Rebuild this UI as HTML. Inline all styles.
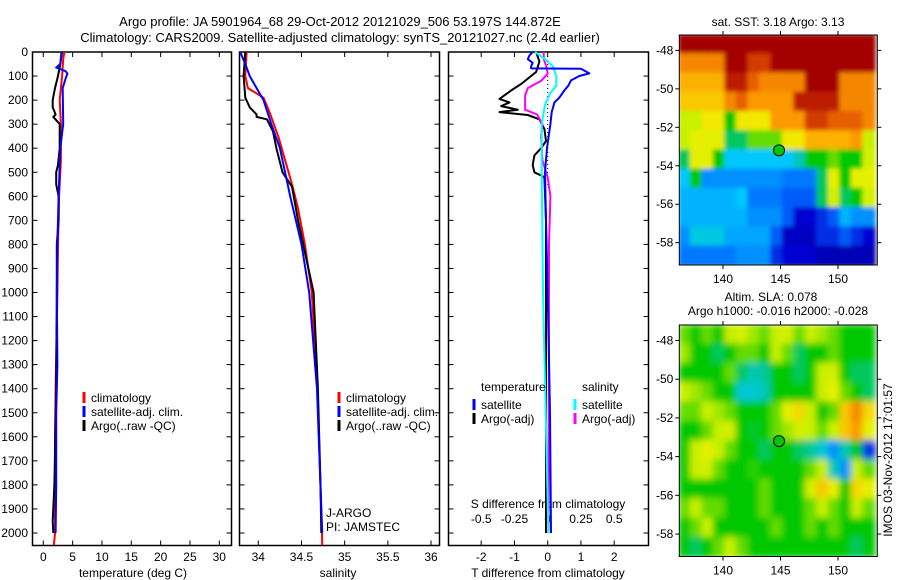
<!DOCTYPE html>
<html><head><meta charset="utf-8">
<style>
html,body{margin:0;padding:0;background:#fff;}
svg{display:block;font-family:"Liberation Sans",sans-serif;font-size:12px;}
</style></head>
<body>
<svg id="fig" width="900" height="580" viewBox="0 0 900 580" xmlns="http://www.w3.org/2000/svg">
<text x="340" y="26" text-anchor="middle" font-size="13">Argo profile: JA 5901964_68 29-Oct-2012 20121029_506 53.197S 144.872E</text>
<text x="340" y="42" text-anchor="middle" font-size="13">Climatology: CARS2009. Satellite-adjusted climatology: synTS_20121027.nc (2.4d earlier)</text>
<g id="layer"></g>
</svg>
<script>
// ---------- data ----------
const tempDepth = [0,30,100,200,300,450,600,800,1000,1400,1600,2000,2050];
const tempClim  = [3.6,3.4,3.2,2.8,3.0,3.0,2.7,2.5,2.4,2.1,2.0,2.0,1.8];
const tempSatDepth = [0,50,65,80,90,110,150,300,400,600,800,1000,1300,1500,1800,2000];
const tempSat = [3.1,2.9,2.2,3.8,4.1,3.8,3.3,3.4,2.9,2.6,2.4,2.3,2.4,2.2,2.2,2.1];
const tempArgoDepth = [0,50,100,150,200,230,260,270,300,400,470,500,550,600,700,800,1000,1400,1800,1950,2000];
const tempArgo = [3.2,2.9,2.5,2.0,1.6,1.6,2.1,1.7,2.8,2.8,2.5,2.2,2.2,2.6,2.6,2.3,2.3,2.2,1.9,1.6,1.7];

const salClimDepth = [0,100,150,190,250,350,450,550,650,800,1000,1400,2000,2050];
const salClim = [33.865,33.85,33.88,34.06,34.13,34.23,34.31,34.39,34.46,34.54,34.62,34.684,34.738,34.74];
const salSatDepth = [0,50,100,150,200,300,400,500,600,800,1000,1400,2000];
const salSat = [33.79,33.85,33.9,33.98,34.06,34.15,34.25,34.31,34.37,34.5,34.59,34.68,34.74];
const salArgoDepth = [0,100,190,230,260,270,280,330,400,500,560,700,900,1000,1400,1800,2000];
const salArgo = [33.85,33.83,33.85,33.9,33.98,33.98,34.1,34.17,34.21,34.28,34.39,34.46,34.58,34.64,34.69,34.72,34.73];

const dTSatDepth = [0,15,30,45,60,68,70,89,100,118,140,160,190,210,250,300,400,500,700,1000,1500,2000];
const dTSat = [-0.45,-0.55,-0.6,-0.45,-0.5,-0.5,1.0,1.25,0.95,0.7,0.62,0.5,0.35,0.2,0.12,0.08,-0.02,-0.08,-0.05,0.0,0.07,0.1];
const dTArgoDepth = [0,40,83,133,160,195,210,225,240,250,262,280,320,370,400,430,470,500,520,700,1000,1500,2000];
const dTArgo = [-0.35,-0.25,-0.35,-0.8,-1.1,-1.45,-1.15,-1.4,-0.9,-1.45,-0.6,-0.25,-0.1,-0.05,-0.2,-0.4,-0.45,-0.4,-0.1,-0.05,-0.05,-0.05,-0.05];
const dSSatDepth = [0,30,60,100,140,170,220,300,500,1000,1500,2000];
const dSSat = [-0.095,-0.02,0.04,0.065,0.065,0.02,-0.02,-0.045,-0.045,-0.035,-0.015,0.005];
const dSArgoDepth = [0,30,60,90,120,150,180,210,240,260,300,350,450,520,600,800,1200,2000];
const dSArgo = [-0.03,-0.03,-0.01,0.0,-0.05,-0.15,-0.17,-0.17,-0.17,-0.08,-0.04,-0.05,-0.04,0.0,0.02,0.01,0.01,0.005];

const depthTicks = [0,100,200,300,400,500,600,700,800,900,1000,1100,1200,1300,1400,1500,1600,1700,1800,1900,2000];
const tempTicks = [0,5,10,15,20,25,30];
const salTicks = [34,34.5,35,35.5,36];
const salTickLabels = ["34","34.5","35","35.5","36"];
const dTTicks = [-2,-1,0,1,2];
const dSTicks = [-0.5,-0.25,0,0.25,0.5];
const dSTickLabels = ["-0.5","-0.25","0","0.25","0.5"];

const mapLons = [136.7,137.7,138.7,139.7,140.7,141.7,142.7,143.7,144.7,145.7,146.7,147.7,148.7,149.7,150.7,151.7,152.7];
const mapLats = [-47.7,-48.7,-49.7,-50.7,-51.7,-52.7,-53.7,-54.7,-55.7,-56.7,-57.7,-58.7];
const lonTicks = [140,145,150];
const latTicks = [-48,-50,-52,-54,-56,-58];
const sstGrid = [
[1,1,1,1,1,1,1,1,1,1,1,1,1,1,1,1,1],
[0.8,0.8,0.8,0.8,1,1,0.9,0.9,1,1,1,1,1,1,1,1,1],
[0.75,0.75,0.75,0.75,0.95,0.95,0.85,0.8,0.8,0.8,0.8,1,1,1,0.8,0.8,0.8],
[0.72,0.72,0.72,0.72,0.8,0.85,0.78,0.78,0.78,0.78,0.95,0.95,0.95,0.95,0.8,0.8,0.8],
[0.6,0.6,0.68,0.68,0.5,0.68,0.68,0.68,0.78,0.78,0.78,0.9,0.9,0.85,0.85,0.85,0.8],
[0.6,0.65,0.65,0.65,0.45,0.45,0.55,0.55,0.55,0.68,0.68,0.75,0.75,0.75,0.75,0.78,0.6],
[0.45,0.65,0.65,0.5,0.35,0.35,0.35,0.35,0.35,0.35,0.4,0.5,0.5,0.55,0.5,0.5,0.62],
[0.35,0.5,0.3,0.3,0.3,0.3,0.3,0.3,0.3,0.28,0.28,0.28,0.45,0.65,0.5,0.65,0.65],
[0.33,0.33,0.33,0.33,0.33,0.35,0.28,0.28,0.28,0.25,0.25,0.25,0.45,0.62,0.45,0.5,0.62],
[0.33,0.33,0.33,0.33,0.33,0.33,0.3,0.3,0.3,0.25,0.15,0.15,0.2,0.25,0.33,0.3,0.3],
[0.3,0.37,0.37,0.37,0.32,0.32,0.32,0.32,0.25,0.12,0.12,0.12,0.2,0.2,0.25,0.2,0.15],
[0.28,0.28,0.28,0.28,0.28,0.3,0.3,0.3,0.2,0.15,0.15,0.15,0.1,0.1,0.1,0.1,0.1]
];
const slaGrid = [
[0.55,0.5,0.55,0.5,0.6,0.62,0.58,0.55,0.6,0.62,0.55,0.6,0.58,0.55,0.5,0.5,0.5],
[0.58,0.5,0.5,0.45,0.5,0.55,0.55,0.5,0.6,0.55,0.45,0.5,0.5,0.55,0.5,0.5,0.5],
[0.5,0.5,0.5,0.5,0.55,0.45,0.4,0.42,0.5,0.5,0.45,0.5,0.6,0.62,0.5,0.45,0.45],
[0.6,0.58,0.55,0.5,0.5,0.38,0.38,0.4,0.5,0.5,0.5,0.5,0.6,0.66,0.55,0.5,0.45],
[0.55,0.55,0.6,0.58,0.55,0.5,0.5,0.5,0.55,0.65,0.7,0.6,0.5,0.55,0.72,0.8,0.7],
[0.5,0.5,0.55,0.6,0.62,0.5,0.48,0.5,0.55,0.58,0.62,0.6,0.55,0.6,0.72,0.78,0.65],
[0.5,0.6,0.65,0.6,0.55,0.5,0.5,0.45,0.5,0.5,0.45,0.42,0.38,0.3,0.4,0.5,0.2],
[0.5,0.6,0.62,0.55,0.5,0.5,0.52,0.5,0.5,0.5,0.5,0.55,0.6,0.4,0.3,0.6,0.55],
[0.5,0.5,0.5,0.5,0.5,0.5,0.5,0.55,0.5,0.5,0.5,0.62,0.72,0.65,0.5,0.7,0.65],
[0.55,0.6,0.55,0.55,0.5,0.5,0.5,0.55,0.5,0.5,0.5,0.55,0.6,0.55,0.5,0.6,0.55],
[0.5,0.55,0.6,0.5,0.5,0.5,0.5,0.5,0.55,0.5,0.5,0.55,0.5,0.55,0.5,0.5,0.5],
[0.5,0.45,0.5,0.55,0.6,0.55,0.5,0.5,0.5,0.5,0.5,0.5,0.5,0.5,0.5,0.45,0.5]
];
const argoLon = 144.872, argoLat = -53.197;

// ---------- drawing ----------
const NS = "http://www.w3.org/2000/svg";
const layer = document.getElementById('layer');
function mk(tag, attrs, parent){ const e=document.createElementNS(NS,tag); for(const k in attrs) e.setAttribute(k,attrs[k]); (parent||layer).appendChild(e); return e; }
function txt(x,y,s,anchor,parent){ const t=mk('text',{x:x,y:y,'text-anchor':anchor||'middle'},parent); t.textContent=s; return t; }

const Y0=52, YS=0.2405;
const yD = d => Y0 + d*YS;
const PB = 545.5;

function panel(x0,x1,name){
  const g=mk('g',{});
  
  
  const r=mk('rect',{x:x0,y:Y0,width:x1-x0,height:PB-Y0,fill:'none',stroke:'#000','stroke-width':1.5},g);
  
  
  depthTicks.forEach(d=>{
    mk('line',{x1:x0,x2:x0+5,y1:yD(d),y2:yD(d),stroke:'#000'},g);
    mk('line',{x1:x1,x2:x1-5,y1:yD(d),y2:yD(d),stroke:'#000'},g);
  });
  return g;
}
function profile(g,xf,depths,vals,color,name){
  const pts=depths.map((d,i)=>xf(vals[i]).toFixed(1)+','+yD(d).toFixed(1)).join(' ');
  const p=mk('polyline',{points:pts,fill:'none',stroke:color,'stroke-width':2,'stroke-linejoin':'round'},g);
  
  
}
function xticks(g,x0,x1,xf,ticks,labels,ly){
  ticks.forEach((t,i)=>{
    const x=xf(t);
    mk('line',{x1:x,x2:x,y1:PB,y2:PB-5,stroke:'#000'},g);
    mk('line',{x1:x,x2:x,y1:Y0,y2:Y0+5,stroke:'#000'},g);
    const lt=txt(x,ly,labels[i],'middle',g);
    
    
  });
}
function legend(g,bx,y,items){
  items.forEach((it,i)=>{
    mk('rect',{x:bx-1.5,y:y+i*14-6,width:3,height:11,fill:it[1]},g);
    const t=txt(bx+7,y+i*14+4,it[0],'start',g);
    
    
  });
}

// Panel 1: temperature
const xT = v => 43.3 + v*5.867;
const g1=panel(32.5,231.5,'temperature-panel');
depthTicks.forEach(d=>{
  const t=txt(28,yD(d)+4,String(d),'end',g1);
  
  
});
xticks(g1,32,231,xT,tempTicks,tempTicks.map(String),561);
const xl1=txt(133,577,'temperature (deg C)','middle',g1);


profile(g1,xT,tempDepth,tempClim,'#ff0000','temp-climatology-line');
profile(g1,xT,tempArgoDepth,tempArgo,'#000000','temp-argo-line');
profile(g1,xT,tempSatDepth,tempSat,'#0000ff','temp-satellite-line');
legend(g1,84,398,[['climatology','#ff0000'],['satellite-adj. clim.','#0000ff'],['Argo(..raw -QC)','#000000']]);

// Panel 2: salinity
const xS = v => 258.3 + (v-34)*86.35;
const g2=panel(239.5,439.5,'salinity-panel');
xticks(g2,239,439,xS,salTicks,salTickLabels,561);
const xl2=txt(338,577,'salinity','middle',g2);


profile(g2,xS,salClimDepth,salClim,'#ff0000','sal-climatology-line');
profile(g2,xS,salArgoDepth,salArgo,'#000000','sal-argo-line');
profile(g2,xS,salSatDepth,salSat,'#0000ff','sal-satellite-line');
legend(g2,339,398,[['climatology','#ff0000'],['satellite-adj. clim.','#0000ff'],['Argo(..raw -QC)','#000000']]);
const ja=txt(326,517,'J-ARGO','start',g2);


const pi=txt(326,531,'PI: JAMSTEC','start',g2);



// Panel 3: differences
const xDT = v => 547.7 + v*33.25;
const xDS = v => 547.7 + v*133;
const g3=panel(448.5,648.5,'difference-panel');
xticks(g3,448,648,xDT,dTTicks,dTTicks.map(String),561);
dSTicks.forEach((t,i)=>{
  const l=txt(xDS(t),523,dSTickLabels[i],'middle',g3);
  
  
});
const sdl=txt(548,508,'S difference from climatology','middle',g3);


const tdl=txt(548,577,'T difference from climatology','middle',g3);


mk('line',{x1:xDT(0),x2:xDT(0),y1:Y0,y2:yD(560),stroke:'#000','stroke-dasharray':'1,3'},g3);
profile(g3,xDT,dTArgoDepth,dTArgo,'#000000','t-diff-argo-line');
profile(g3,xDS,dSArgoDepth,dSArgo,'#ff00ff','s-diff-argo-line');
profile(g3,xDS,dSSatDepth,dSSat,'#00ffff','s-diff-satellite-line');
profile(g3,xDT,dTSatDepth,dTSat,'#0000ff','t-diff-satellite-line');
const tl=txt(481,391,'temperature','start',g3);


const sl=txt(582,391,'salinity','start',g3);


legend(g3,474,405,[['satellite','#0000ff'],['Argo(-adj)','#000000']]);
legend(g3,575,405,[['satellite','#00ffff'],['Argo(-adj)','#ff00ff']]);

// Maps
const cmapStops=[[0,[0,0,128]],[0.15,[0,0,210]],[0.27,[0,110,255]],[0.35,[0,200,255]],[0.42,[0,200,150]],[0.5,[0,200,0]],[0.6,[200,240,0]],[0.67,[240,240,0]],[0.77,[255,160,0]],[0.88,[220,70,0]],[1,[165,0,0]]];
function cmap(v){
  for(let i=1;i<cmapStops.length;i++){
    if(v<=cmapStops[i][0]){
      const a=cmapStops[i-1],b=cmapStops[i],f=(v-a[0])/(b[0]-a[0]);
      return 'rgb('+a[1].map((c,k)=>Math.round(c+(b[1][k]-c)*f)).join(',')+')';
    }
  }
  return 'rgb(165,0,0)';
}
const MX0=679.3, MX1=877.3;
const xLon = l => MX0 + (l-136.2)*11.5;
function map(top,bottom,grid,name,blur){
  const g=mk('g',{});
  
  
  const latS=(bottom-top)/11.96;
  const yLat = la => top + (-47.2-la)*latS;
  const clipId=name+'-clip';
  const cp=mk('clipPath',{id:clipId},g);
  mk('rect',{x:MX0,y:top,width:MX1-MX0,height:bottom-top},cp);
  const cg=mk('g',{'clip-path':'url(#'+clipId+')'},g);
  const inner=mk('g',blur?{filter:'url(#'+name+'-blur)'}:{},cg);
  if(blur){ const f=mk('filter',{id:name+'-blur',x:'-5%',y:'-5%',width:'110%',height:'110%'},g); mk('feGaussianBlur',{stdDeviation:blur},f); }
  mapLats.forEach((la,r)=>{
    mapLons.forEach((lo,c)=>{
      const x=xLon(lo-0.5), y=yLat(la+0.5);
      const cell=mk('rect',{x:(x-1).toFixed(1),y:(y-1).toFixed(1),width:(11.5+2).toFixed(1),height:(latS+2).toFixed(1),fill:cmap(grid[r][c])},inner);
      
      
    });
  });
  mk('rect',{x:MX0,y:top,width:MX1-MX0,height:bottom-top,fill:'none',stroke:'#000','stroke-width':1},g);
  latTicks.forEach(la=>{
    const y=yLat(la);
    mk('line',{x1:MX0-4,x2:MX0,y1:y,y2:y,stroke:'#000'},g);
    mk('line',{x1:MX1,x2:MX1+4,y1:y,y2:y,stroke:'#000'},g);
    const t=txt(MX0-6,y+4,String(la),'end',g);
    
    
  });
  lonTicks.forEach(lo=>{
    const x=xLon(lo);
    mk('line',{x1:x,x2:x,y1:top-4,y2:top,stroke:'#000'},g);
    mk('line',{x1:x,x2:x,y1:bottom,y2:bottom+4,stroke:'#000'},g);
    const t=txt(x,bottom+18,String(lo),'middle',g);
    
    
  });
  const m=mk('circle',{cx:xLon(argoLon),cy:yLat(argoLat),r:5.5,fill:'#00c800',stroke:'#000','stroke-width':1},g);
  
  
}
map(35,265,sstGrid,'sst-map',2);
map(325,556.5,slaGrid,'sla-map',3.5);
const t1=txt(778,26,'sat. SST: 3.18 Argo: 3.13','middle');


const t2=txt(771,301,'Altim. SLA: 0.078','middle');


const t3=txt(778,315,'Argo h1000: -0.016 h2000: -0.028','middle');


const st=mk('text',{x:0,y:0,'text-anchor':'middle',transform:'translate(892,460) rotate(-90)'});
st.textContent='IMOS 03-Nov-2012 17:01:57';


</script>
</body></html>
